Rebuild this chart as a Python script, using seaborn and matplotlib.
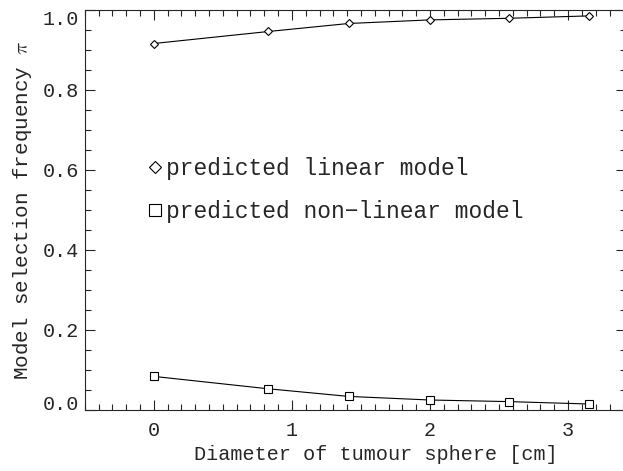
import numpy as np
import pandas as pd
import matplotlib
matplotlib.use("Agg")
import matplotlib.pyplot as plt
import seaborn as sns
from matplotlib.lines import Line2D
from matplotlib.ticker import MultipleLocator

# values
diameter = [0.0, 0.83, 1.41, 2.0, 2.57, 3.15]
linear_freq = [0.916, 0.946, 0.966, 0.975, 0.979, 0.985]
nonlinear_freq = [0.084, 0.053, 0.034, 0.025, 0.021, 0.015]
labels = ["predicted linear model", "predicted non\u2212linear model"]
yticks = [0.0, 0.2, 0.4, 0.6, 0.8, 1.0]
xticks = [0, 1, 2, 3]

sns.set_style("ticks")
plt.rcParams["font.family"] = ["Liberation Mono", "DejaVu Sans"]
plt.rcParams["mathtext.fontset"] = "cm"
plt.rcParams["font.size"] = 14.5

df = pd.DataFrame({"d": diameter, "lin": linear_freq, "nonlin": nonlinear_freq})

fig = plt.figure(figsize=(6.23, 4.71), dpi=100)
# right edge of the frame falls just outside the image, as in the original
ax = fig.add_axes([0.136, 0.1295, 0.869, 0.8495])

sns.lineplot(data=df, x="d", y="lin", ax=ax, color="black", lw=0.8,
             marker="D", markersize=4.5, markerfacecolor="white",
             markeredgecolor="black", markeredgewidth=0.8)
sns.lineplot(data=df, x="d", y="nonlin", ax=ax, color="black", lw=0.8,
             marker="s", markersize=6, markerfacecolor="white",
             markeredgecolor="black", markeredgewidth=0.8)

ax.set_xlim(-0.5, 3.42)
ax.set_ylim(0.0, 1.0)
ax.set_xticks(xticks)
ax.set_yticks(yticks)
ax.set_xticklabels([str(v) for v in xticks])
ax.set_yticklabels([f"{v:.1f}" for v in yticks])
ax.xaxis.set_minor_locator(MultipleLocator(0.1))
ax.yaxis.set_minor_locator(MultipleLocator(0.05))
ax.tick_params(which="both", direction="in", top=True, right=True,
               width=0.8, labelsize=14.5)
ax.tick_params(which="major", length=7)
ax.tick_params(which="minor", length=4)
ax.tick_params(axis="y", which="major", pad=4)
ax.tick_params(axis="x", which="major", pad=8)
for s in ax.spines.values():
    s.set_linewidth(0.8)

# IDL-style end labels sit inside the axis range
ylabs = ax.get_yticklabels()
ylabs[0].set_va("baseline")
ylabs[-1].set_va("top")

ax.set_xlabel("Diameter of tumour sphere [cm]", fontsize=14.5)
ax.xaxis.set_label_coords(0.538, -0.088)
ax.set_ylabel(r"Model selection frequency $\pi$", fontsize=15, labelpad=6)

handles = [
    Line2D([], [], ls="none", marker="D", markersize=6, markerfacecolor="white",
           markeredgecolor="black", markeredgewidth=0.8),
    Line2D([], [], ls="none", marker="s", markersize=8, markerfacecolor="white",
           markeredgecolor="black", markeredgewidth=0.8),
]
ax.legend(handles, labels, loc="upper left", bbox_to_anchor=(0.1, 0.655),
          frameon=False, handlelength=0.6, handletextpad=0.2,
          labelspacing=0.85, fontsize=16.5, borderaxespad=0)

fig.savefig("out.png", dpi=100)
